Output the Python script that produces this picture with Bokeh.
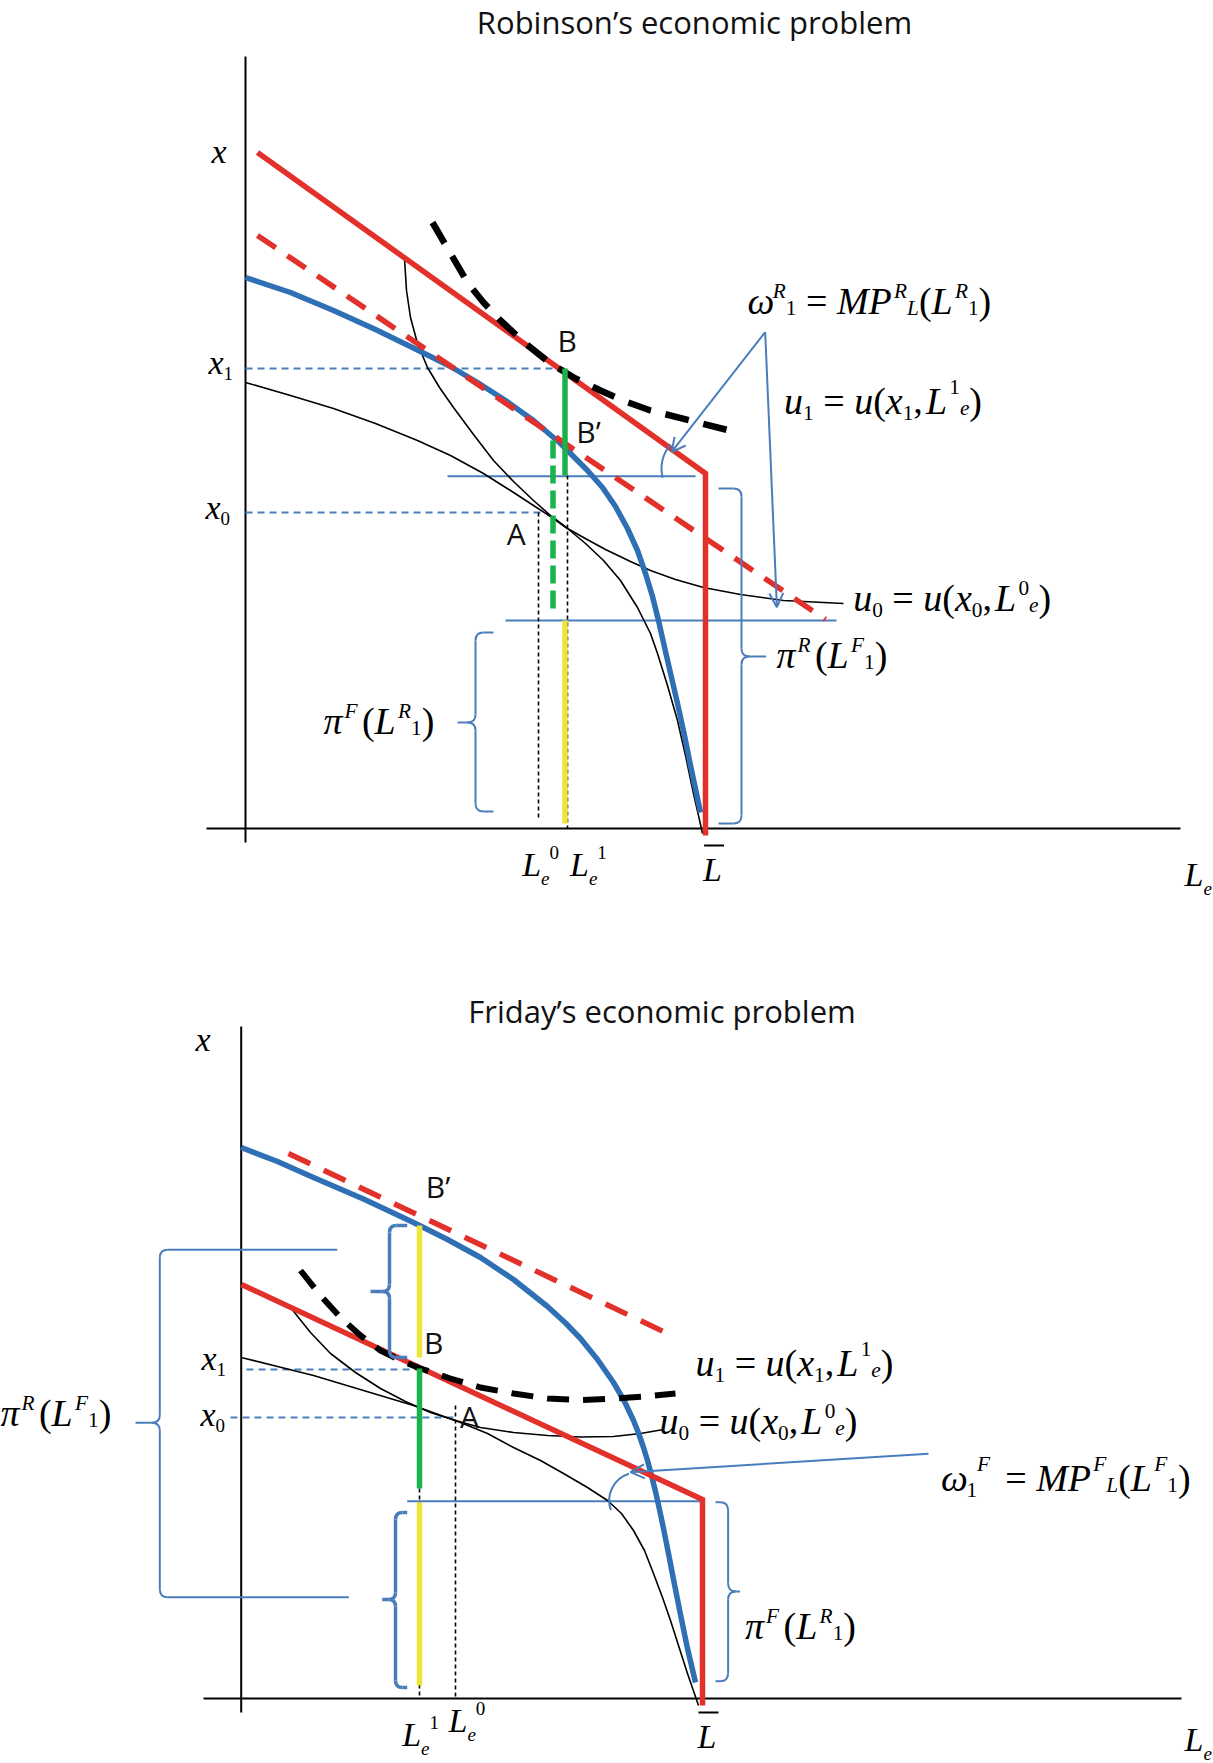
import math
from bokeh.plotting import figure
from bokeh.models import Range1d, ColumnDataSource, Arrow, OpenHead
from bokeh.embed import file_html
from bokeh.resources import INLINE
from bokeh.core.properties import value

# ================= DATA (picture-pixel coordinates) =================
# ---------- Robinson's economic problem (top panel) ----------
rob_axis_x = [245, 245]
rob_axis_y = [56, 842]
rob_base_x = [206, 1180]
rob_base_y = [828, 828]

rob_budget_x = [257, 705, 705]
rob_budget_y = [152, 473, 835]
rob_budget2_x = [257, 825]
rob_budget2_y = [235, 619]

rob_ppf_x = [245, 290, 333, 375, 418, 450, 477, 505, 533, 560, 587, 602, 615, 627, 637, 645,
             652, 658, 665, 671, 677, 684, 690, 696, 700]
rob_ppf_y = [277, 292, 310, 329, 350, 366, 382, 400, 420, 443, 470, 487, 506, 528, 550, 573,
             596, 620, 651, 677, 703, 735, 765, 793, 812]

rob_other_x = [245, 290, 333, 375, 417, 450, 483, 510, 533, 550, 567, 585, 603, 620, 637, 650,
               657, 667, 677, 685, 693, 698, 702]
rob_other_y = [382, 395, 408, 423, 440, 455, 473, 490, 505, 516, 528, 543, 560, 580, 607, 633,
               653, 685, 720, 755, 793, 815, 833]

rob_u0_x = [404, 406, 410, 417, 427, 439, 453, 473, 493, 513, 533, 550, 567, 583, 605, 630,
            650, 675, 703, 740, 783, 843]
rob_u0_y = [258, 290, 317, 343, 367, 387, 407, 434, 460, 481, 500, 515, 528, 537, 549, 561,
            570, 579, 587, 594, 600, 603]

rob_u1_x = [432, 450, 467, 483, 500, 525, 550, 575, 600, 625, 650, 690, 729]
rob_u1_y = [222, 253, 282, 302, 320, 343, 363, 378, 390, 401, 410, 420, 430]

rob_x1_level = 368
rob_x0_level = 512
rob_Le1 = 564.5
rob_Le0 = 538
rob_Bp = [552.5, 440]
rob_green_solid_y = [368, 475]
rob_green_dash_y = [440, 610]
rob_yellow_y = [620, 823]
rob_hline1 = [447, 695, 475.7]
rob_hline2 = [505, 836, 620]
rob_dot0 = [538, 512, 818]
rob_dot1 = [567, 475, 828]

# ---------- Friday's economic problem (bottom panel) ----------
fri_axis_x = [240.7, 240.7]
fri_axis_y = [1026, 1712]
fri_base_x = [203, 1181]
fri_base_y = [1698, 1698]

fri_budget_x = [241, 702, 702]
fri_budget_y = [1284, 1499, 1705]
fri_budget2_x = [288, 667]
fri_budget2_y = [1153, 1333]

fri_ppf_x = [240.7, 277, 313, 363, 413, 447, 480, 513, 547, 565, 580, 597, 613, 624, 633, 638,
             643, 647, 651, 655, 659, 663, 668, 674, 680, 687, 695]
fri_ppf_y = [1147, 1161, 1177, 1198.5, 1222, 1239, 1257, 1279, 1306, 1322.5, 1338, 1359, 1382,
             1401, 1420, 1432.5, 1447, 1460, 1475, 1491, 1509, 1528, 1553, 1584, 1614, 1648, 1682]

fri_other_x = [240.7, 277, 313, 363, 413, 460, 487, 513, 540, 563, 587, 607, 621, 633, 644,
               653, 662, 670, 678, 687, 698]
fri_other_y = [1357, 1366, 1375, 1390, 1405, 1422, 1433, 1447, 1460, 1473, 1487, 1500, 1513,
               1530, 1550, 1573, 1597, 1620, 1645, 1673, 1705]

fri_u0_x = [290, 310, 330, 355, 380, 405, 430, 455, 480, 513, 547, 580, 613, 640, 663]
fri_u0_y = [1307, 1332, 1353, 1372, 1388, 1401, 1412, 1420, 1427, 1432, 1435, 1436.5, 1436,
            1433, 1429]

fri_u1_x = [300, 320, 340, 360, 380, 400, 420, 450, 480, 513, 547, 580, 613, 645, 675]
fri_u1_y = [1270, 1295, 1317, 1335, 1350, 1360, 1368, 1378, 1387, 1393, 1398, 1399.5, 1398,
            1396, 1393]

fri_x1_dash = [246, 420, 1369]
fri_x0_dash = [230, 455, 1417]
fri_Le1 = 419
fri_dot1 = [419, 1369, 1698]
fri_dot0 = [455, 1405, 1698]
fri_green_y = [1368, 1488]
fri_yellow_up_y = [1225, 1357]
fri_yellow_low_y = [1502, 1685]
fri_hline = [406.7, 703.3, 1500.7]

# braces: spine x, top y, bottom y, tip x, tip y, top hook end x, bottom hook end x
braces_thin = [
    (475, 632, 811, 457, 722, 493, 493),
    (741, 488, 823, 765.5, 656, 718, 718),
    (159.3, 1249.3, 1596.7, 135, 1422.3, 336.7, 348.3),
    (727.6, 1501.7, 1680.7, 739.5, 1591, 715, 715),
]
braces_thick = [
    (389, 1225, 1357, 370, 1291, 406.7, 406.7),
    (395, 1512, 1687, 381.7, 1599, 406.7, 406.7),
]

# arrows (start x, start y, end x, end y)
arrows = [
    (764.7, 331.7, 671, 451.7),
    (764.7, 331.7, 776.4, 606.7),
    (928, 1453.3, 630, 1471.7),
]
# angle arcs: centre x, centre y, radius, start deg, end deg
arcs = [(697, 468, 36, 138, 195), (636.7, 1500, 28, 107, 200)]

# ================= STYLE =================
RED = "#e2302a"
BLUE = "#2f6fb4"
TBLUE = "#4a7ebb"
GREEN = "#19b24b"
YELLOW = "#ede53a"
BLACK = "#000000"

W, H = 1213, 1763
p = figure(width=W, height=H, x_range=Range1d(0, W), y_range=Range1d(H, 0),
           output_backend="svg", toolbar_location=None, min_border=0,
           x_axis_type=None, y_axis_type=None)
p.grid.visible = False
p.outline_line_color = None
p.background_fill_color = "white"
p.border_fill_color = "white"


def seg(x0, y0, x1, y1, **kw):
    p.segment(x0=[x0], y0=[y0], x1=[x1], y1=[y1], **kw)


# axes
for ax, ay in [(rob_axis_x, rob_axis_y), (rob_base_x, rob_base_y),
               (fri_axis_x, fri_axis_y), (fri_base_x, fri_base_y)]:
    p.line(ax, ay, line_color=BLACK, line_width=2)

# thin blue guide lines
seg(rob_hline1[0], rob_hline1[2], rob_hline1[1], rob_hline1[2], line_color=TBLUE, line_width=2)
seg(rob_hline2[0], rob_hline2[2], rob_hline2[1], rob_hline2[2], line_color=TBLUE, line_width=2)
seg(fri_hline[0], fri_hline[2], fri_hline[1], fri_hline[2], line_color=TBLUE, line_width=2)
seg(rob_axis_x[0], rob_x1_level, rob_Le1, rob_x1_level, line_color=TBLUE, line_width=2, line_dash="7 5")
seg(rob_axis_x[0], rob_x0_level, rob_Le0 + 2, rob_x0_level, line_color=TBLUE, line_width=2, line_dash="7 5")
seg(fri_x1_dash[0], fri_x1_dash[2], fri_x1_dash[1], fri_x1_dash[2], line_color=TBLUE, line_width=2, line_dash="7 5")
seg(fri_x0_dash[0], fri_x0_dash[2], fri_x0_dash[1], fri_x0_dash[2], line_color=TBLUE, line_width=2, line_dash="7 5")

# dotted verticals
for dx, dy0, dy1 in [rob_dot0, rob_dot1, fri_dot1, fri_dot0]:
    seg(dx, dy0, dx, dy1, line_color=BLACK, line_width=1.6, line_dash="4 3")

# thin black curves
for cx, cy in [(rob_other_x, rob_other_y), (rob_u0_x, rob_u0_y),
               (fri_other_x, fri_other_y), (fri_u0_x, fri_u0_y)]:
    p.line(cx, cy, line_color=BLACK, line_width=1.6, line_join="round")

# production possibility frontiers
p.line(rob_ppf_x, rob_ppf_y, line_color=BLUE, line_width=5.5, line_join="round")
p.line(fri_ppf_x, fri_ppf_y, line_color=BLUE, line_width=5.5, line_join="round")

# dashed red tangents
p.line(rob_budget2_x, rob_budget2_y, line_color=RED, line_width=5.5, line_dash="22 14")
p.line(fri_budget2_x, fri_budget2_y, line_color=RED, line_width=5.5, line_dash="24 15")

# budget lines
p.line(rob_budget_x, rob_budget_y, line_color=RED, line_width=5.5, line_join="miter")
p.line(fri_budget_x, fri_budget_y, line_color=RED, line_width=5.5, line_join="miter")

# dashed black indifference curves u1
p.line(rob_u1_x, rob_u1_y, line_color=BLACK, line_width=6.5, line_dash="24 15")
p.line(fri_u1_x, fri_u1_y, line_color=BLACK, line_width=6, line_dash="22 14")

# green / yellow segments
seg(rob_Le1, rob_green_solid_y[0], rob_Le1, rob_green_solid_y[1], line_color=GREEN, line_width=5.5)
seg(rob_Bp[0], rob_green_dash_y[0], rob_Bp[0], rob_green_dash_y[1], line_color=GREEN, line_width=5.5, line_dash="18 7")
seg(rob_Le1, rob_yellow_y[0], rob_Le1, rob_yellow_y[1], line_color=YELLOW, line_width=5.5)
seg(fri_Le1, fri_green_y[0], fri_Le1, fri_green_y[1], line_color=GREEN, line_width=5.5)
seg(fri_Le1, fri_yellow_up_y[0], fri_Le1, fri_yellow_up_y[1], line_color=YELLOW, line_width=5.5)
seg(fri_Le1, fri_yellow_low_y[0], fri_Le1, fri_yellow_low_y[1], line_color=YELLOW, line_width=5.5)


# braces
def add_brace(b, color, width, r=8):
    sx, t, bt, tx, ty, ht, hb = b
    d = 1 if ht > sx else -1
    s0 = [ht, sx, sx - d * r, sx, sx + d * r]
    s1 = [t, t + r, ty, ty + r, bt]
    s2 = [sx + d * r, sx, tx, sx, hb]
    s3 = [t, ty - r, ty, bt - r, bt]
    p.segment(x0=s0, y0=s1, x1=s2, y1=s3, line_color=color, line_width=width)
    p.quadratic(x0=[sx + d * r, sx, sx - d * r, sx], y0=[t, ty - r, ty, bt - r],
                x1=[sx, sx - d * r, sx, sx + d * r], y1=[t + r, ty, ty + r, bt],
                cx=[sx, sx, sx, sx], cy=[t, ty, ty, bt],
                line_color=color, line_width=width)


for b in braces_thin:
    add_brace(b, TBLUE, 2)
for b in braces_thick:
    add_brace(b, TBLUE, 3.5, r=7)

# arrows
for ax0, ay0, ax1, ay1 in arrows:
    p.add_layout(Arrow(end=OpenHead(size=14, line_color=TBLUE, line_width=2),
                       x_start=ax0, y_start=ay0, x_end=ax1, y_end=ay1,
                       line_color=TBLUE, line_width=2))

# angle arcs
for acx, acy, ar, a0, a1 in arcs:
    p.arc(x=[acx], y=[acy], radius=ar, start_angle=math.radians(a0), end_angle=math.radians(a1),
          direction="anticlock", line_color=TBLUE, line_width=2)

# ================= TEXT =================
IW = {'u': .5, 'x': .444, 'e': .444, 'L': .556, 'M': .833, 'P': .611, 'R': .611, 'F': .611,
      'ω': .667, 'π': .55}
RW = {'0': .5, '1': .5, '(': .333, ')': .333, '=': .564, ',': .25}
# kind -> (scale, baseline shift in units of main size, italic)
KINDS = {
    'i': (1, 0, True), 'r': (1, 0, False),
    'si': (.56, -.40, True), 'sr': (.56, -.40, False),
    'hi': (.56, -.50, True), 'hr': (.56, -.50, False),
    'bi': (.56, .18, True), 'br': (.56, .18, False),
    'di': (.56, .27, True),
    'ci': (.56, .04, True), 'cr': (.56, .04, False),
}
SERIF_MID = 0.3375   # distance baseline -> em-box centre (Liberation Serif)
SANS_MID = 0.388     # same for Open Sans


def layout(tokens, x0, yb, S, out):
    x = x0
    prev_cap = False
    for txt, kind in tokens:
        if not isinstance(kind, str):
            x += kind * S
            continue
        sc, dy, italic = KINDS[kind]
        s = sc * S
        if sc < 1 and dy < 0 and prev_cap:
            x += 0.06 * S
        w = sum((IW if italic else RW).get(c, .5) for c in txt) * s
        out['x'].append(x)
        out['y'].append(yb + dy * S - SERIF_MID * s)
        out['text'].append(txt)
        out['size'].append("%.1fpx" % s)
        out['style'].append("italic" if italic else "normal")
        x += w
        prev_cap = (kind == 'i' and txt[-1].isupper())
    return x


EQ = [("", 0.25), ("=", "r"), ("", 0.25)]
OMEGA_R = [("ω", "i"), ("R", "si"), ("1", "cr")] + EQ + \
          [("M", "i"), ("P", "i"), ("R", "si"), ("L", "ci"), ("(", "r"), ("L", "i"), ("R", "si"), ("1", "cr"), (")", "r")]
OMEGA_F = [("ω", "i"), ("1", "br"), ("F", "hi"), ("", 0.15)] + EQ + \
          [("M", "i"), ("P", "i"), ("F", "hi"), ("L", "ci"), ("(", "r"), ("L", "i"), ("F", "hi"), ("1", "cr"), (")", "r")]
U1 = [("u", "i"), ("1", "br")] + EQ + \
     [("u", "i"), ("(", "r"), ("x", "i"), ("1", "br"), (",", "r"), ("", 0.08), ("L", "i"), ("1", "hr"), ("e", "ci"), (")", "r")]
U0 = [("u", "i"), ("0", "br")] + EQ + \
     [("u", "i"), ("(", "r"), ("x", "i"), ("0", "br"), (",", "r"), ("", 0.08), ("L", "i"), ("0", "sr"), ("e", "ci"), (")", "r")]
PI_R = [("π", "i"), ("R", "si"), ("", 0.12), ("(", "r"), ("L", "i"), ("F", "si"), ("1", "cr"), (")", "r")]
PI_F = [("π", "i"), ("F", "si"), ("", 0.12), ("(", "r"), ("L", "i"), ("R", "si"), ("1", "cr"), (")", "r")]
XL = [("x", "i")]
X1 = [("x", "i"), ("1", "br")]
X0 = [("x", "i"), ("0", "br")]
LE0 = [("L", "i"), ("e", "di"), ("0", "hr")]
LE1 = [("L", "i"), ("e", "di"), ("1", "hr")]
LBAR = [("L", "i")]
LE = [("L", "i"), ("e", "di")]

math_labels = [
    (OMEGA_R, 747, 313, 38), (U1, 783.6, 413, 38), (U0, 852.7, 610, 38),
    (PI_R, 776, 667, 38), (PI_F, 323, 733, 38),
    (XL, 211, 162, 34), (X1, 208, 373, 34), (X0, 205, 518, 34),
    (LE0, 521.7, 875, 34), (LE1, 569.5, 875, 34), (LBAR, 702.6, 880, 34), (LE, 1184, 885, 34),
    (U1, 695, 1375, 38), (U0, 659, 1433, 38), (OMEGA_F, 940.6, 1490, 38),
    (PI_F, 744.6, 1638, 38), (PI_R, 0, 1425, 38),
    (XL, 195, 1050, 34), (X1, 201, 1369, 34), (X0, 200, 1425, 34),
    (LE1, 401.7, 1745, 34), (LE0, 448, 1731.7, 34), (LBAR, 697, 1747, 34), (LE, 1184, 1750, 34),
]

md = dict(x=[], y=[], text=[], size=[], style=[])
for toks, lx, ly, S in math_labels:
    layout(toks, lx, ly, S, md)
p.text(x="x", y="y", text="text", source=ColumnDataSource(md), text_font=value("Liberation Serif"),
       text_font_size="size", text_font_style="style", text_color=BLACK,
       text_align="left", text_baseline="middle")

# overbars of L-bar
for lx, ly in [(702.6, 880), (697, 1747)]:
    seg(lx + 1, ly - 35, lx + 21, ly - 35, line_color=BLACK, line_width=2)

# sans labels
titles = ["Robinson’s economic problem", "Friday’s economic problem"]
title_base = [34, 1023]
p.text(x=[694, 661.5], y=[b - SANS_MID * 31 for b in title_base], text=titles,
       text_font=value("Open Sans"), text_font_size="31px", text_color="#111111",
       text_align="center", text_baseline="middle")

point_labels = ["B", "B’", "A", "B’", "B", "A"]
point_x = [566.7, 588, 515.8, 437.5, 433.3, 469]
point_y = [340, 431, 533, 1186, 1341.5, 1416]
p.text(x=point_x, y=point_y, text=point_labels, text_font=value("Open Sans"),
       text_font_size="30px", text_color="#111111", text_align="center", text_baseline="middle")

open("out.html", "w").write(file_html(p, INLINE))
